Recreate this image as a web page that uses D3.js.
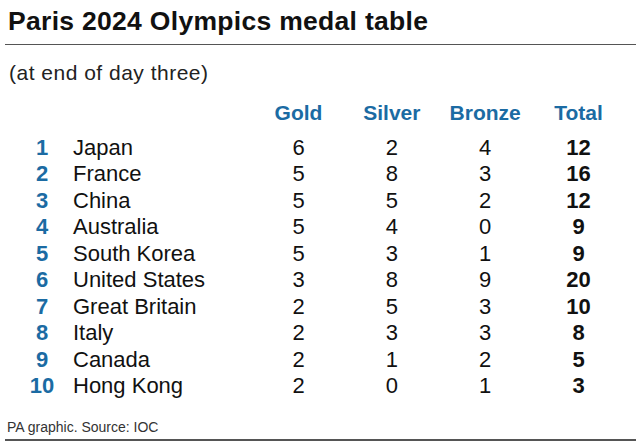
<!DOCTYPE html>
<html>
<head>
<meta charset="utf-8">
<script src="https://cdn.jsdelivr.net/npm/d3@7"></script>
<style>
  body { margin: 0; background: #fff; }
  svg { display: block; font-family: "Liberation Sans", Arial, sans-serif; }
</style>
</head>
<body>
<svg id="chart" width="640" height="442"></svg>
<script>
var ranks = [1, 2, 3, 4, 5, 6, 7, 8, 9, 10];
var countries = ["Japan", "France", "China", "Australia", "South Korea", "United States", "Great Britain", "Italy", "Canada", "Hong Kong"];
var gold = [6, 5, 5, 5, 5, 3, 2, 2, 2, 2];
var silver = [2, 8, 5, 4, 3, 8, 5, 3, 1, 0];
var bronze = [4, 3, 2, 0, 1, 9, 3, 3, 2, 1];
var total = [12, 16, 12, 9, 9, 20, 10, 8, 5, 3];
var columns = ["Gold", "Silver", "Bronze", "Total"];

var svg = d3.select("#chart");
var width = 640, height = 442;
var blue = "#1b6ba3";

// title + rules
svg.append("text")
    .attr("x", 8)
    .attr("y", 30)
    .attr("font-size", "26.5px")
    .attr("font-weight", "bold")
    .attr("fill", "#111")
    .attr("textLength", 420)
    .attr("lengthAdjust", "spacing")
    .text("Paris 2024 Olympics medal table");

svg.append("line")
    .attr("x1", 5).attr("x2", 636)
    .attr("y1", 44.5).attr("y2", 44.5)
    .attr("stroke", "#555").attr("stroke-width", 1);

svg.append("text")
    .attr("x", 9)
    .attr("y", 80)
    .attr("font-size", "21px")
    .attr("fill", "#222")
    .attr("textLength", 199)
    .attr("lengthAdjust", "spacing")
    .text("(at end of day three)");

// rows
var y = d3.scaleBand()
    .domain(ranks)
    .range([134, 398.5])
    .padding(0);

var x = d3.scalePoint()
    .domain(columns)
    .range([298.5, 578.5]);

svg.selectAll(".colHead")
    .data(columns)
    .enter()
    .append("text")
    .attr("class", "colHead")
    .attr("x", function (d) { return x(d); })
    .attr("y", 120)
    .attr("text-anchor", "middle")
    .attr("font-size", "21px")
    .attr("font-weight", "bold")
    .attr("fill", blue)
    .text(function (d) { return d; });

var rowG = svg.selectAll(".row")
    .data(ranks)
    .enter()
    .append("g")
    .attr("class", "row")
    .attr("transform", function (d) {
        return "translate(0," + (y(d) + y.bandwidth() / 2 + 7.8) + ")";
    });

rowG.append("text")
    .attr("x", 42)
    .attr("text-anchor", "middle")
    .attr("font-size", "22px")
    .attr("font-weight", "bold")
    .attr("fill", blue)
    .text(function (d) { return d; });

rowG.append("text")
    .attr("x", 73)
    .attr("font-size", "22px")
    .attr("fill", "#111")
    .text(function (d, i) { return countries[i]; });

var series = [gold, silver, bronze, total];
columns.forEach(function (c, k) {
    rowG.append("text")
        .attr("x", x(c))
        .attr("text-anchor", "middle")
        .attr("font-size", "22px")
        .attr("font-weight", c === "Total" ? "bold" : "normal")
        .attr("fill", "#111")
        .text(function (d, i) { return series[k][i]; });
});

// footer
svg.append("text")
    .attr("x", 7)
    .attr("y", 432)
    .attr("font-size", "14px")
    .attr("fill", "#333")
    .text("PA graphic. Source: IOC");

svg.append("line")
    .attr("x1", 5).attr("x2", 636)
    .attr("y1", 440).attr("y2", 440)
    .attr("stroke", "#555").attr("stroke-width", 2);
</script>
</body>
</html>
